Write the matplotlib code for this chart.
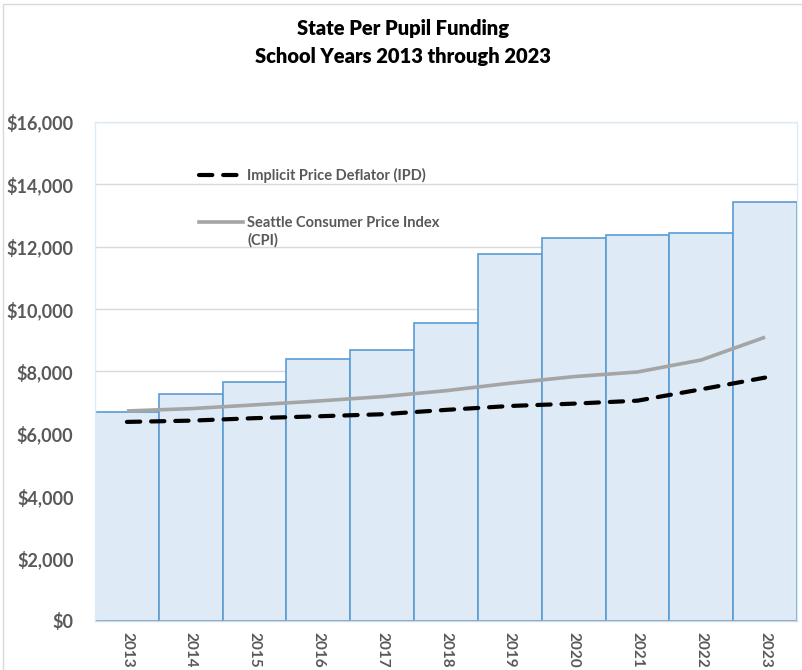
import matplotlib
matplotlib.use("Agg")
import matplotlib.pyplot as plt
from matplotlib.patches import Rectangle
from matplotlib.lines import Line2D
from matplotlib.ticker import FuncFormatter, MultipleLocator

# School years and per-pupil funding figures
years = ["2013", "2014", "2015", "2016", "2017", "2018",
         "2019", "2020", "2021", "2022", "2023"]
funding = [6710, 7290, 7665, 8405, 8690, 9560,
           11765, 12285, 12360, 12445, 13430]
ipd = [6380, 6420, 6500, 6560, 6625, 6765,
       6890, 6965, 7060, 7425, 7800]
cpi = [6730, 6805, 6925, 7050, 7190, 7380,
       7620, 7830, 7980, 8365, 9095]

FONT = "Lato"
TXT = "#595959"

fig = plt.figure(figsize=(8.02, 6.70), dpi=100)
W, H = 802, 670

# thin outer chart frame
fig.patches.append(Rectangle((3 / W, -0.1), 1.2, (H - 4) / H + 0.1,
                             transform=fig.transFigure, fill=False,
                             edgecolor="#D9D9D9", linewidth=1.0))

ax = fig.add_axes([95 / W, (H - 621) / H, (797 - 95) / W, (621 - 121.7) / H])

x = list(range(len(years)))
ax.bar(x, funding, width=1.0, color="#DEEAF6", edgecolor="#5B9BD5",
       linewidth=1.2, zorder=2)
ax.plot(x, cpi, color="#A5A5A5", linewidth=2.6, solid_capstyle="butt",
        zorder=3)
ax.plot(x, ipd, color="black", linewidth=3.0, dashes=(3.2, 2.6),
        dash_capstyle="round", zorder=4)

ax.set_xlim(-0.5, len(years) - 0.5)
ax.set_ylim(0, 16000)
ax.yaxis.set_major_locator(MultipleLocator(2000))
ax.yaxis.set_major_formatter(FuncFormatter(lambda v, p: f"${v:,.0f}"))
ax.grid(axis="y", color="#D9D9D9", linewidth=1.0, zorder=0)
ax.set_axisbelow(True)

ax.set_xticks(x)
ax.set_xticklabels(years, rotation=270, fontsize=11, fontweight="bold",
                   color=TXT, family=FONT)
for lab in ax.get_yticklabels():
    lab.set_fontsize(13)
    lab.set_fontweight("bold")
    lab.set_color(TXT)
    lab.set_family(FONT)
ax.tick_params(axis="both", length=0)
ax.tick_params(axis="y", pad=15.5)
ax.tick_params(axis="x", pad=8)

for side in ("top", "right", "left"):
    ax.spines[side].set_color("#DDEBF7")
    ax.spines[side].set_linewidth(1.0)
ax.spines["bottom"].set_color("#D9D9D9")
ax.spines["bottom"].set_linewidth(1.0)

handles = [
    Line2D([], [], color="black", linewidth=3.0, dashes=(3.2, 2.6),
           dash_capstyle="round"),
    Line2D([], [], color="#A5A5A5", linewidth=2.6),
]
labels = ["Implicit Price Deflator (IPD)",
          "Seattle Consumer Price Index"]
leg = ax.legend(handles, labels, loc="upper left",
                bbox_to_anchor=(186 / W, (H - 155) / H),
                bbox_transform=fig.transFigure, frameon=False,
                handlelength=3.0, handletextpad=0.3, labelspacing=2.25,
                prop={"family": FONT, "weight": "bold", "size": 10.5})
for t in leg.get_texts():
    t.set_color(TXT)
# wrapped second line of the CPI entry
fig.text(247 / W, 1 - 240 / H, "(CPI)", ha="left", va="center",
         family=FONT, fontweight="bold", fontsize=10.5, color=TXT)

fig.text(403 / W, 1 - 42.5 / H, "State Per Pupil Funding\nSchool Years 2013 through 2023",
         ha="center", va="center", fontsize=14.5, fontweight="heavy",
         family=FONT, color="black", linespacing=1.5)

fig.savefig("out.png", dpi=100)
